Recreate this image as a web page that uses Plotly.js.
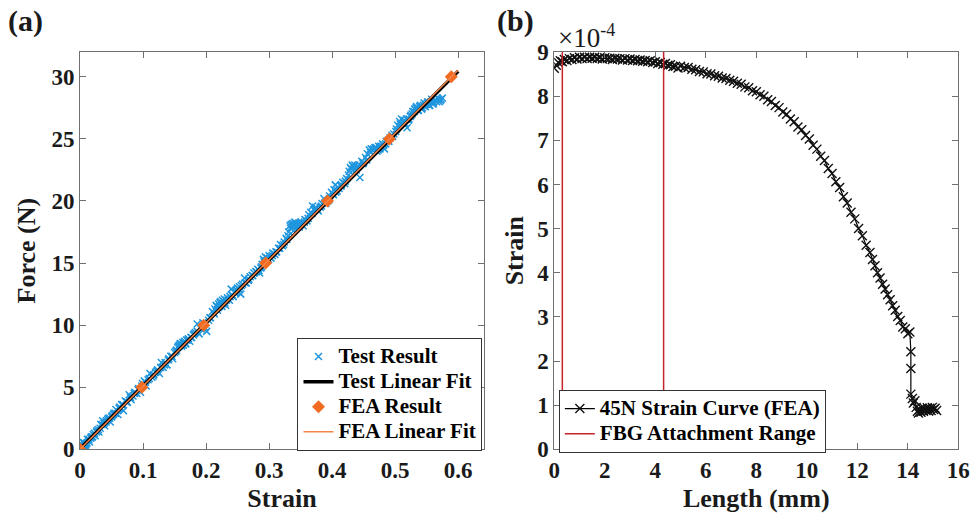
<!DOCTYPE html>
<html>
<head>
<meta charset="utf-8">
<script src="https://cdn.plot.ly/plotly-3.0.1.min.js"></script>
<style>html,body{margin:0;padding:0;background:#fff;}#plot{width:977px;height:518px;}</style>
</head>
<body>
<div id="plot"></div>
<script>
// ---------- Panel (a): Force vs Strain ----------
const testStrainA = [0.002,0.004,0.006,0.008,0.010,0.012,0.015,0.018,0.021,0.024,
0.027,0.030,0.033,0.036,0.039,0.042,0.045,0.048,0.051,0.054,
0.057,0.060,0.063,0.066,0.069,0.072,0.075,0.078,0.081,0.084,
0.087,0.090,0.093,0.096,0.099,0.102,0.105,0.108,0.111,0.114,
0.117,0.120,0.123,0.126,0.129,0.132,0.135,0.138,0.141,0.144,
0.147,0.150,0.153,0.156,0.159,0.162,0.165,0.168,0.171,0.174,
0.177,0.180,0.183,0.186,0.189,0.192,0.195,0.198,0.201,0.204,
0.207,0.210,0.213,0.216,0.219,0.222,0.225,0.228,0.231,0.234,
0.237,0.240,0.243,0.246,0.249,0.252,0.255,0.258,0.261,0.264,
0.267,0.270,0.273,0.276,0.279,0.282,0.285,0.288,0.291,0.294,
0.297,0.300,0.303,0.306,0.309,0.312,0.315,0.318,0.321,0.324,
0.327,0.330,0.333,0.336,0.339,0.342,0.345,0.348,0.351,0.354,
0.357,0.360,0.363,0.366,0.369,0.372,0.375,0.378,0.381,0.384,
0.387,0.390,0.393,0.396,0.399,0.402,0.405,0.408,0.411,0.414,
0.417,0.420,0.423,0.426,0.429,0.432,0.435,0.438,0.441,0.444,
0.447,0.450,0.453,0.456,0.459,0.462,0.465,0.468,0.471,0.474,
0.477,0.480,0.483,0.486,0.489,0.492,0.495,0.498,0.501,0.504,
0.507,0.510,0.513,0.516,0.519,0.522,0.525,0.528,0.531,0.534,
0.537,0.540,0.543,0.546,0.549,0.552,0.555,0.558,0.561,0.564,
0.567,0.570,0.573,0.575];
const testForceA = [0.1,0.6,0.3,0.0,0.2,0.8,0.6,1.0,1.2,1.1,
1.5,1.4,2.0,2.3,1.9,2.3,2.5,2.2,2.7,2.9,
3.2,2.8,3.4,3.6,3.1,3.9,3.8,4.4,4.0,4.3,
4.6,4.5,4.9,4.6,5.3,5.5,5.1,5.6,6.1,5.8,
6.0,6.2,6.4,6.1,7.0,6.6,7.0,6.8,7.3,7.5,
7.3,7.8,8.0,8.3,8.5,8.4,8.6,8.5,8.8,8.7,
9.0,9.2,9.4,10.1,9.3,9.7,10.2,9.8,9.5,10.4,
10.6,11.1,10.9,11.6,11.4,11.8,11.5,11.9,11.6,12.2,
12.0,12.9,12.3,12.6,12.8,12.9,12.5,13.3,13.8,13.4,
13.6,13.9,14.0,14.2,14.3,14.5,14.2,14.7,15.3,15.5,
15.4,15.6,15.4,15.8,15.7,15.9,16.2,16.5,16.4,16.7,
17.0,17.2,18.0,18.1,17.6,18.2,18.0,17.9,18.3,18.0,
18.5,18.4,18.9,19.1,19.6,19.3,19.4,19.2,19.5,19.8,
20.2,19.8,20.0,20.4,20.7,20.5,21.3,20.8,21.0,21.2,
21.5,21.4,21.8,22.1,22.7,22.9,22.6,22.5,22.8,21.9,
23.2,23.1,23.5,23.8,24.1,24.2,24.1,24.3,24.0,24.4,
24.4,24.6,24.2,24.8,24.9,25.1,25.3,25.4,25.6,26.1,
26.4,26.6,26.3,26.2,25.9,26.6,26.9,27.2,27.4,27.6,
27.3,27.7,27.5,27.9,27.8,28.0,27.7,28.2,27.9,28.1,
28.3,28.0,28.2,28.3];
const testStrainB = [0.003,0.005,0.007,0.009,0.011,0.014,0.017,0.020,0.023,0.026,
0.029,0.032,0.035,0.038,0.041,0.044,0.047,0.050,0.053,0.056,
0.062,0.068,0.074,0.080,0.086,0.092,0.098,0.104,0.110,0.116,
0.122,0.128,0.134,0.140,0.146,0.152,0.155,0.157,0.158,0.160,
0.161,0.163,0.164,0.166,0.167,0.169,0.172,0.176,0.181,0.186,
0.192,0.198,0.206,0.212,0.214,0.217,0.218,0.220,0.221,0.223,
0.224,0.226,0.227,0.229,0.230,0.232,0.235,0.238,0.242,0.247,
0.250,0.253,0.256,0.262,0.268,0.274,0.280,0.284,0.287,0.289,
0.292,0.295,0.299,0.305,0.311,0.317,0.323,0.328,0.331,0.334,
0.335,0.337,0.338,0.340,0.341,0.343,0.346,0.350,0.356,0.362,
0.368,0.371,0.374,0.377,0.383,0.389,0.395,0.401,0.403,0.406,
0.409,0.415,0.421,0.427,0.430,0.433,0.436,0.439,0.443,0.449,
0.455,0.461,0.466,0.470,0.473,0.476,0.479,0.482,0.485,0.490,
0.496,0.502,0.508,0.514,0.518,0.521,0.524,0.527,0.530,0.533,
0.536,0.539,0.542,0.545,0.548,0.551,0.554,0.557,0.560,0.563,
0.566,0.569,0.572];
const testForceB = [0.3,0.2,0.5,0.4,0.5,0.8,0.9,1.0,1.3,1.4,
1.6,1.7,2.0,2.1,2.2,2.4,2.5,2.6,2.8,2.9,
3.3,3.6,3.8,4.2,4.5,4.8,5.1,5.4,5.7,5.9,
6.3,6.6,6.8,7.2,7.5,7.9,8.2,8.3,8.4,8.5,
8.3,8.6,8.4,8.7,8.5,8.8,8.9,9.0,9.3,9.5,
9.8,10.1,10.6,11.0,11.3,11.5,11.2,11.7,11.5,11.9,
11.6,12.0,11.7,12.1,11.8,12.0,12.1,12.3,12.4,12.7,
13.0,13.1,13.2,13.4,13.7,14.0,14.3,14.4,14.6,14.9,
15.1,15.2,15.3,15.6,15.9,16.2,16.5,16.9,17.5,17.8,
18.1,17.9,18.2,18.0,18.3,18.1,18.2,18.1,18.3,18.6,
19.0,19.3,19.5,19.3,19.6,19.9,20.1,20.6,20.9,20.7,
21.1,21.3,21.6,22.4,22.6,22.8,22.9,22.7,22.9,23.0,
23.3,23.9,24.2,24.3,24.1,24.2,24.4,24.5,24.6,24.8,
25.2,25.8,26.2,26.5,26.6,26.5,26.8,27.0,27.2,27.5,
27.3,27.6,27.4,27.7,27.6,27.9,27.7,28.0,27.8,28.1,
28.0,28.2,28.1];
const fitStrain = [0, 0.6];
const testFitForce = [0.05, 30.45];
const feaStrain = [0, 0.0982, 0.1963, 0.2945, 0.3927, 0.4908, 0.589];
const feaForce  = [0, 5, 10, 15, 20, 25, 30];
const feaFitForce = [0, 30.55];
const forceTicks = [0, 5, 10, 15, 20, 25, 30];
const strainTicks = [0, 0.1, 0.2, 0.3, 0.4, 0.5, 0.6];
const strainTickText = ['0', '0.1', '0.2', '0.3', '0.4', '0.5', '0.6'];

// ---------- Panel (b): Strain (x1e-4) vs Length ----------
const lengthMm = [0.00,0.08,0.16,0.24,0.32,0.40,0.50,0.60,0.70,0.80,0.90,1.00,1.10,1.20,1.30,1.40,1.50,1.60,1.70,1.80,1.90,2.00,2.10,2.20,2.30,2.40,2.50,2.60,2.70,2.80,2.90,3.00,3.10,3.20,3.30,3.40,3.50,3.60,3.70,3.80,3.90,4.00,4.10,4.20,4.30,4.40,4.50,4.60,4.70,4.80,4.90,5.00,5.15,5.30,5.45,5.60,5.75,5.90,6.05,6.20,6.35,6.50,6.65,6.80,6.95,7.10,7.25,7.40,7.55,7.70,7.85,8.00,8.15,8.30,8.45,8.60,8.75,8.90,9.05,9.20,9.35,9.50,9.65,9.80,9.95,10.10,10.25,10.40,10.55,10.70,10.85,11.00,11.15,11.30,11.45,11.60,11.75,11.90,12.05,12.20,12.35,12.50,12.60,12.70,12.80,12.90,13.00,13.10,13.20,13.30,13.40,13.50,13.60,13.70,13.80,13.90,14.00,14.08,14.12,14.12,14.12,14.18,14.22,14.28,14.33,14.38,14.42,14.47,14.52,14.57,14.62,14.67,14.72,14.77,14.82,14.87,14.92,14.97,15.02,15.08,15.14];
const strainE4 = [8.63,8.70,8.76,8.80,8.78,8.83,8.81,8.85,8.83,8.87,8.84,8.88,8.85,8.88,8.85,8.88,8.86,8.88,8.85,8.87,8.84,8.87,8.85,8.86,8.83,8.86,8.84,8.85,8.82,8.85,8.82,8.84,8.81,8.83,8.80,8.82,8.79,8.81,8.78,8.80,8.76,8.78,8.74,8.76,8.72,8.74,8.70,8.71,8.67,8.68,8.64,8.68,8.65,8.65,8.61,8.60,8.56,8.55,8.51,8.50,8.46,8.45,8.41,8.40,8.36,8.34,8.29,8.27,8.21,8.19,8.12,8.10,8.03,8.00,7.92,7.88,7.79,7.74,7.64,7.59,7.48,7.42,7.30,7.24,7.11,7.03,6.89,6.80,6.64,6.54,6.36,6.25,6.06,5.93,5.72,5.58,5.37,5.22,5.00,4.84,4.62,4.46,4.30,4.16,4.00,3.88,3.74,3.63,3.50,3.39,3.25,3.15,3.01,2.92,2.77,2.73,2.62,2.66,2.21,1.83,1.25,1.15,1.05,1.10,0.95,0.86,0.82,0.90,0.84,0.93,0.86,0.92,0.88,0.94,0.87,0.93,0.88,0.95,0.90,0.93,0.88];
const fbgX = [0.32, 0.32, null, 4.33, 4.33];
const fbgY = [0, 9, null, 0, 9];
const lengthTicks = [0, 2, 4, 6, 8, 10, 12, 14, 16];
const strainE4Ticks = [0, 1, 2, 3, 4, 5, 6, 7, 8, 9];

const serif = '"Liberation Serif", "Times New Roman", serif';
const txt = '#1a1a1a';
const axCol = '#707070';
const legName = s => '<span style="font-size:21px">' + s + '</span>';

const traces = [
  {x: testStrainA.concat(testStrainB), y: testForceA.concat(testForceB), type: 'scatter', mode: 'markers', name: legName('Test Result'),
   marker: {symbol: 'x-thin', size: 7, line: {color: '#1f96de', width: 1.5}, color: '#1f96de'},
   xaxis: 'x', yaxis: 'y', legend: 'legend'},
  {x: fitStrain, y: testFitForce, type: 'scatter', mode: 'lines', name: legName('Test Linear Fit'),
   line: {color: '#000000', width: 3.5}, xaxis: 'x', yaxis: 'y', legend: 'legend'},
  {x: feaStrain, y: feaForce, type: 'scatter', mode: 'markers', name: legName('FEA Result'),
   marker: {symbol: 'diamond', size: 10, color: '#f26b21'}, xaxis: 'x', yaxis: 'y', legend: 'legend'},
  {x: fitStrain, y: feaFitForce, type: 'scatter', mode: 'lines', name: legName('FEA Linear Fit'),
   line: {color: '#f5854a', width: 1.5}, xaxis: 'x', yaxis: 'y', legend: 'legend'},
  {x: lengthMm, y: strainE4, type: 'scatter', mode: 'lines+markers', name: legName('45N Strain Curve (FEA)'),
   line: {color: '#000000', width: 1.2}, marker: {symbol: 'x-thin', size: 9, line: {color: '#111', width: 1.4}},
   xaxis: 'x2', yaxis: 'y2', legend: 'legend2'},
  {x: fbgX, y: fbgY, type: 'scatter', mode: 'lines', name: legName('FBG Attachment Range'),
   line: {color: '#c8232c', width: 1.5}, xaxis: 'x2', yaxis: 'y2', legend: 'legend2'}
];

function axis(extra) {
  return Object.assign({
    showline: true, linecolor: axCol, linewidth: 1, mirror: 'ticks',
    ticks: 'inside', ticklen: 6, tickcolor: axCol, tickwidth: 1,
    showgrid: false, zeroline: false,
    tickfont: {family: serif, size: 23, color: txt, weight: 'bold'}
  }, extra);
}
const titleFont = {family: serif, size: 26, color: txt, weight: 'bold'};
const legFont = {family: serif, size: 17, color: '#000', weight: 'bold'};

const layout = {
  width: 977, height: 518,
  margin: {l: 0, r: 0, t: 0, b: 0},
  paper_bgcolor: '#fff', plot_bgcolor: '#fff',
  showlegend: true,
  xaxis: axis({domain: [0.0819, 0.4954], range: [0, 0.641], tickvals: strainTicks, ticktext: strainTickText, anchor: 'y',
    title: {text: 'Strain', font: titleFont, standoff: 6}}),
  yaxis: axis({domain: [0.1326, 0.8996], range: [0, 32], tickvals: forceTicks, anchor: 'x',
    title: {text: 'Force (N)', font: titleFont, standoff: 8}}),
  xaxis2: axis({domain: [0.5673, 0.9809], range: [0, 16], tickvals: lengthTicks, anchor: 'y2',
    title: {text: 'Length (mm)', font: titleFont, standoff: 6}}),
  yaxis2: axis({domain: [0.1326, 0.8996], range: [0, 9], tickvals: strainE4Ticks, anchor: 'x2',
    title: {text: 'Strain', font: titleFont, standoff: 6}}),
  legend: {x: 0.3045, y: 0.3475, xanchor: 'left', yanchor: 'top', bgcolor: '#fff',
    bordercolor: '#333', borderwidth: 1, font: legFont, tracegroupgap: 0, itemwidth: 30},
  legend2: {x: 0.572, y: 0.247, xanchor: 'left', yanchor: 'top', bgcolor: '#fff',
    bordercolor: '#333', borderwidth: 1, font: legFont, tracegroupgap: 0, itemwidth: 30},
  annotations: [
    {text: '(a)', xref: 'paper', yref: 'paper', x: 0.006, y: 0.997, xanchor: 'left', yanchor: 'top', showarrow: false,
     font: {family: serif, size: 30, color: txt, weight: 'bold'}},
    {text: '(b)', xref: 'paper', yref: 'paper', x: 0.507, y: 0.997, xanchor: 'left', yanchor: 'top', showarrow: false,
     font: {family: serif, size: 30, color: txt, weight: 'bold'}},
    {text: '×10<sup><span style="font-size:18px">-4</span></sup>', xref: 'paper', yref: 'paper', x: 0.569, y: 0.893, xanchor: 'left', yanchor: 'bottom', showarrow: false,
     font: {family: serif, size: 27, color: txt}}
  ]
};

Plotly.newPlot('plot', traces, layout, {displayModeBar: false, staticPlot: true});
</script>
</body>
</html>
